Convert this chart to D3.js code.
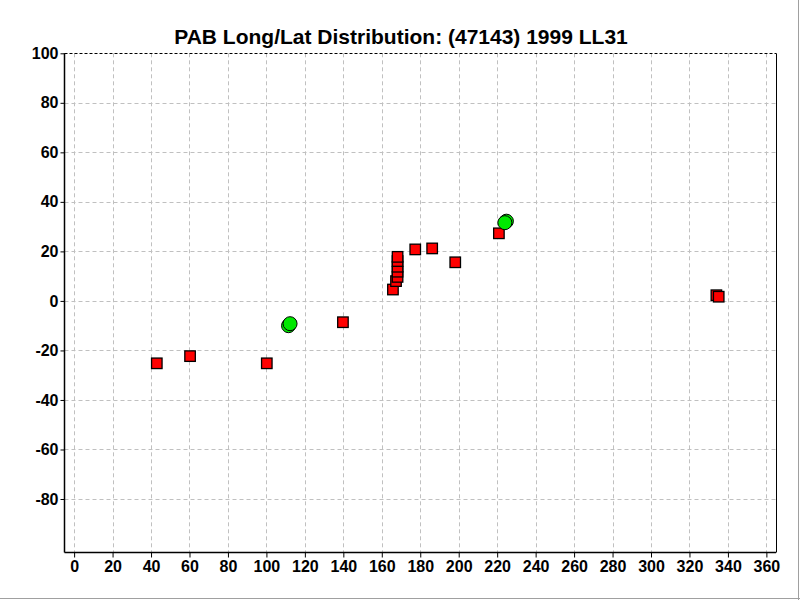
<!DOCTYPE html>
<html>
<head>
<meta charset="utf-8">
<script src="https://cdn.jsdelivr.net/npm/d3@7"></script>
<style>
  html, body { margin: 0; padding: 0; background: #fff; }
  svg { display: block; }
  .axis text { font-family: "Liberation Sans", Arial, sans-serif; font-weight: bold; font-size: 16px; fill: #000; }
</style>
</head>
<body>
<svg id="chart" width="800" height="600"></svg>
<script>
const chartTitle = "PAB Long/Lat Distribution: (47143) 1999 LL31";
const xTicks = [0,20,40,60,80,100,120,140,160,180,200,220,240,260,280,300,320,340,360];
const yTicks = [-80,-60,-40,-20,0,20,40,60,80,100];
const yTickLabels = ["-80","-60","-40","-20","0","20","40","60","80","100"];

// red square observations: longitude, latitude
const squareLon = [43.0, 60.3, 100.2, 139.8, 165.8, 167.4, 168.2, 168.2, 168.2, 168.2, 168.2, 177.4, 186.2, 198.2, 220.9, 334.0, 335.2];
const squareLat = [-25.2, -22.3, -25.2, -8.6, 4.6, 8.0, 9.7, 11.8, 13.8, 16.1, 17.8, 20.8, 21.2, 15.6, 27.3, 2.3, 1.7];

// green circle observations: longitude, latitude (back ones first)
const circleLon = [111.5, 112.3, 224.8, 224.0];
const circleLat = [-10.0, -9.2, 32.2, 31.6];

(function () {
const svg = d3.select("#chart");
const pLeft = 64.5, pRight = 776, pTop = 53.3, pBottom = 552.5;

const x = d3.scaleLinear().domain([-5, 365]).range([pLeft, pRight]);
const y = d3.scaleLinear().domain([-101.6, 100]).range([pBottom, pTop]);

svg.append("rect").attr("x",0).attr("y",0).attr("width",800).attr("height",600).attr("fill","#fff");

// grid
const grid = svg.append("g");
grid.selectAll("line.v").data(xTicks).enter().append("line")
  .attr("x1", d => Math.round(x(d)) + 0.5).attr("x2", d => Math.round(x(d)) + 0.5)
  .attr("y1", pTop).attr("y2", pBottom)
  .attr("stroke", "#c0c0c0").attr("stroke-width", 1).attr("stroke-dasharray", "4,3");
grid.selectAll("line.h").data(yTicks.filter(d => d < 100)).enter().append("line")
  .attr("x1", pLeft).attr("x2", pRight)
  .attr("y1", d => Math.round(y(d)) + 0.5).attr("y2", d => Math.round(y(d)) + 0.5)
  .attr("stroke", "#c0c0c0").attr("stroke-width", 1).attr("stroke-dasharray", "4,3");

// top dashed border
svg.append("line").attr("x1", pLeft).attr("x2", pRight)
  .attr("y1", Math.round(y(100)) + 0.5).attr("y2", Math.round(y(100)) + 0.5)
  .attr("stroke", "#000").attr("stroke-dasharray", "3,2");
// right border
svg.append("line").attr("x1", pRight + 0.5).attr("x2", pRight + 0.5)
  .attr("y1", pTop).attr("y2", pBottom).attr("stroke", "#000");

// axes
const xAxis = svg.append("g").attr("class","axis")
  .attr("transform", `translate(0,${pBottom})`)
  .call(d3.axisBottom(x).tickValues(xTicks).tickSize(5).tickPadding(3).tickSizeOuter(0));
const yAxis = svg.append("g").attr("class","axis")
  .attr("transform", `translate(${pLeft},0)`)
  .call(d3.axisLeft(y).tickValues(yTicks).tickFormat((d,i) => yTickLabels[i]).tickSize(4).tickPadding(2).tickSizeOuter(0));
[xAxis, yAxis].forEach(a => {
  a.select(".domain").attr("stroke", "#000").attr("stroke-width", 1.5);
  a.selectAll(".tick line").attr("stroke", "#000");
});
yAxis.select(".domain").attr("d", `M0,${pTop}V${pBottom}`);
xAxis.select(".domain").attr("d", `M${pLeft},0H${pRight}`);

// squares
const s = 10.5;
svg.append("g").selectAll("rect").data(squareLon.map((d,i) => [d, squareLat[i]])).enter().append("rect")
  .attr("x", d => x(d[0]) - s/2).attr("y", d => y(d[1]) - s/2)
  .attr("width", s).attr("height", s)
  .attr("fill", "#ff0000").attr("stroke", "#000").attr("stroke-width", 1.3);

// circles
svg.append("g").selectAll("circle").data(circleLon.map((d,i) => [d, circleLat[i]])).enter().append("circle")
  .attr("cx", d => x(d[0])).attr("cy", d => y(d[1])).attr("r", 7)
  .attr("fill", "#00e800").attr("stroke", "#000").attr("stroke-width", 1);

// title
svg.append("text").attr("x", 401).attr("y", 44).attr("text-anchor", "middle")
  .style("font-family", "'Liberation Sans', Arial, sans-serif").style("font-weight", "bold").style("font-size", "21px")
  .text(chartTitle);

// outer frame (right & bottom)
svg.append("line").attr("x1", 798.5).attr("x2", 798.5).attr("y1", 0).attr("y2", 600).attr("stroke", "#a0a0a0").attr("stroke-width", 1);
svg.append("line").attr("x1", 0).attr("x2", 800).attr("y1", 598.5).attr("y2", 598.5).attr("stroke", "#a0a0a0").attr("stroke-width", 1);
})();
</script>
</body>
</html>
